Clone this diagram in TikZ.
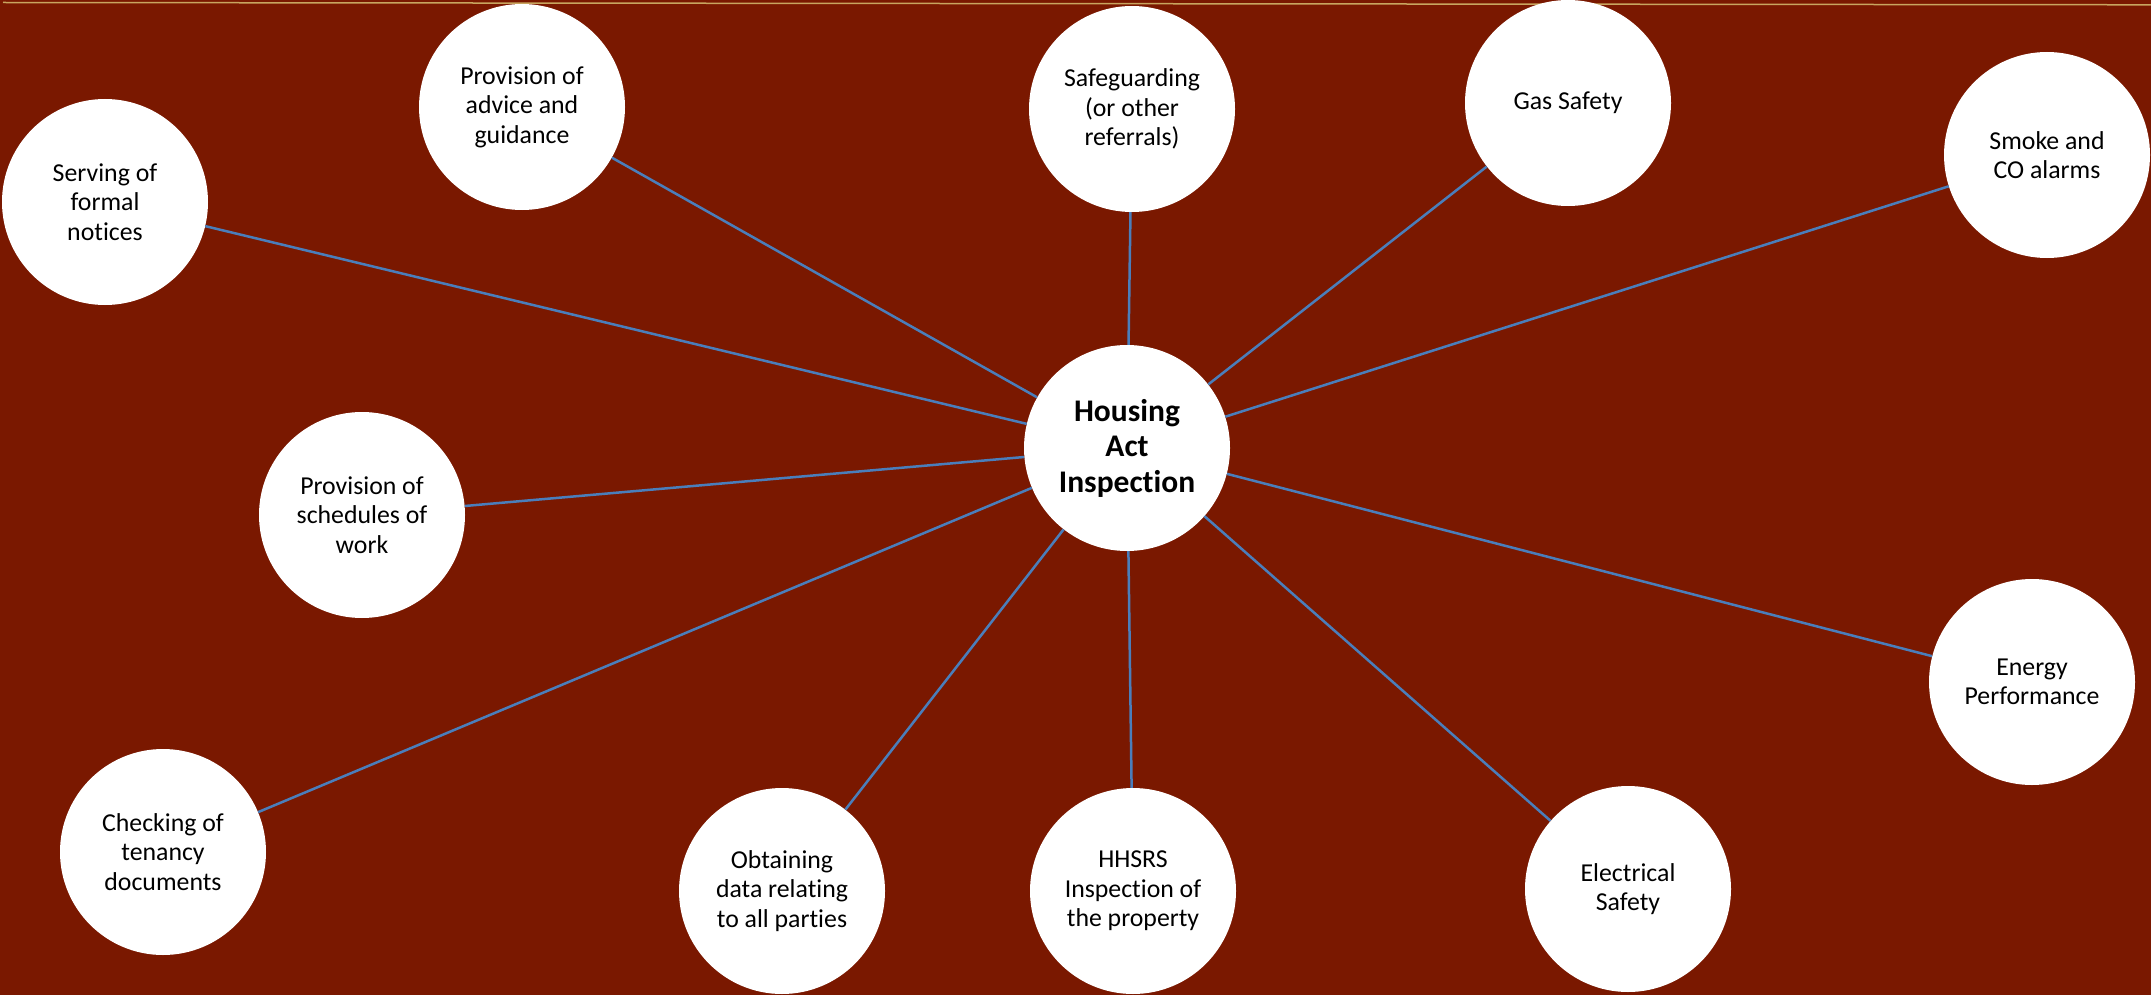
\documentclass[tikz,border=0pt]{standalone}
\usepackage{fontspec}
\setmainfont{Carlito}[Ligatures=NoCommon]
\definecolor{bg}{RGB}{122,24,0}
\definecolor{conn}{RGB}{74,126,187}
\definecolor{topline}{RGB}{200,165,95}
\begin{document}
\begin{tikzpicture}[x=1pt,y=-1pt,
  bubble/.style={circle,fill=white,minimum size=206pt,inner sep=0pt,align=center,text=black,font=\fontsize{25.8}{29.5}\selectfont},
  hub/.style={bubble,font=\fontsize{31.5}{35.5}\selectfont\bfseries},
  link/.style={draw=conn,line width=2.5pt}]
\fill[bg] (0,0) rectangle (2151,995);
\useasboundingbox (0,0) rectangle (2151,995);
\coordinate (tl0) at (3,2.5);
\coordinate (tl1) at (2151,4.8);
\draw[topline,line width=1.5pt] (tl0) -- (tl1);

\node[hub] (hub) at (1127,448) {Housing\\Act\\Inspection};
\node[bubble] (serve) at (105,202) {Serving of\\formal\\notices};
\node[bubble] (advice) at (522,107) {Provision of\\advice and\\guidance};
\node[bubble] (safe) at (1132,109) {Safeguarding\\(or other\\referrals)};
\node[bubble] (gas) at (1568,103) {Gas Safety};
\node[bubble] (smoke) at (2047,155) {Smoke and\\CO alarms};
\node[bubble] (sched) at (362,515) {Provision of\\schedules of\\work};
\node[bubble] (energy) at (2032,682) {Energy\\Performance};
\node[bubble] (tenancy) at (163,852) {Checking of\\tenancy\\documents};
\node[bubble] (data) at (782,891) {Obtaining\\data relating\\to all parties};
\node[bubble] (hhsrs) at (1133,891) {HHSRS\\Inspection of\\the property};
\node[bubble] (elec) at (1628,889) {Electrical\\Safety};

\foreach \n in {serve,advice,safe,gas,smoke,sched,energy,tenancy,data,hhsrs,elec}
  \draw[link] (hub) -- (\n);
\end{tikzpicture}
\end{document}
